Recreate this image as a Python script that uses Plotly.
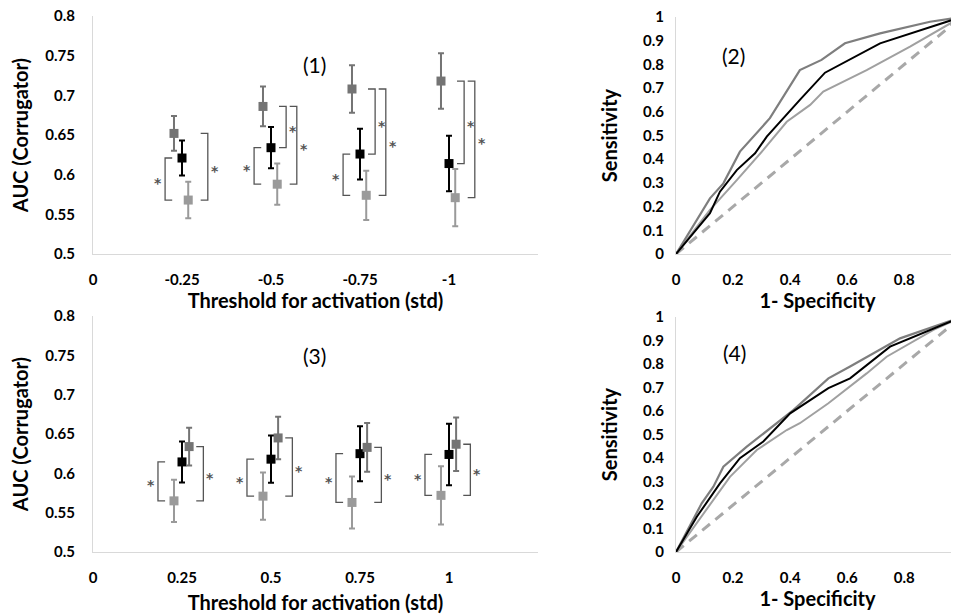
import plotly.graph_objects as go

# ---------------- data ----------------
neg_labels = ["0", "-0.25", "-0.5", "-0.75", "-1"]
pos_labels = ["0", "0.25", "0.5", "0.75", "1"]
auc_ticks = ["0.5", "0.55", "0.6", "0.65", "0.7", "0.75", "0.8"]
sens_ticks = ["0", "0.1", "0.2", "0.3", "0.4", "0.5", "0.6", "0.7", "0.8", "0.9", "1"]
spec_ticks = ["0", "0.2", "0.4", "0.6", "0.8"]
groups = [1, 2, 3, 4]

# panel (1)
p1_dark = [0.652, 0.686, 0.708, 0.718]
p1_dark_err = [0.022, 0.025, 0.030, 0.035]
p1_black = [0.621, 0.634, 0.626, 0.614]
p1_black_err = [0.022, 0.026, 0.032, 0.035]
p1_light = [0.568, 0.588, 0.574, 0.571]
p1_light_err = [0.023, 0.026, 0.031, 0.036]

# panel (3)
p3_light = [0.565, 0.571, 0.563, 0.572]
p3_light_err = [0.027, 0.030, 0.033, 0.037]
p3_black = [0.6145, 0.618, 0.625, 0.624]
p3_black_err = [0.026, 0.030, 0.035, 0.039]
p3_dark = [0.634, 0.645, 0.633, 0.637]
p3_dark_err = [0.024, 0.027, 0.031, 0.034]

# significance brackets: (group index, series a, series b, slot)
p1_sig = [(0, "black", "light", "L"), (0, "dark", "light", "R"),
          (1, "black", "light", "L"), (1, "dark", "black", "M"), (1, "dark", "light", "R"),
          (2, "black", "light", "L"), (2, "dark", "black", "M"), (2, "dark", "light", "R"),
          (3, "dark", "black", "M"), (3, "dark", "light", "R")]
p3_sig = [(0, "black", "light", "L"), (0, "dark", "light", "R"),
          (1, "black", "light", "L"), (1, "dark", "light", "R"),
          (2, "black", "light", "L"), (2, "dark", "light", "R"),
          (3, "black", "light", "L"), (3, "dark", "light", "R")]

# panel (2) ROC curves
r2_dark_x = [0, 0.119, 0.166, 0.224, 0.329, 0.434, 0.51, 0.592, 0.715, 0.89, 1.0]
r2_dark_y = [0, 0.235, 0.298, 0.432, 0.573, 0.776, 0.819, 0.889, 0.931, 0.98, 1.0]
r2_black_x = [0, 0.119, 0.154, 0.213, 0.277, 0.318, 0.434, 0.522, 0.715, 0.855, 1.0]
r2_black_y = [0, 0.172, 0.263, 0.354, 0.425, 0.495, 0.65, 0.765, 0.889, 0.945, 1.0]
r2_light_x = [0, 0.119, 0.213, 0.306, 0.388, 0.47, 0.516, 0.668, 0.82, 1.0]
r2_light_y = [0, 0.186, 0.312, 0.439, 0.558, 0.629, 0.685, 0.776, 0.875, 1.0]

# panel (4) ROC curves
r4_dark_x = [0, 0.09, 0.131, 0.166, 0.248, 0.329, 0.411, 0.534, 0.61, 0.785, 1.0]
r4_dark_y = [0, 0.207, 0.278, 0.363, 0.448, 0.526, 0.604, 0.739, 0.789, 0.909, 1.0]
r4_black_x = [0, 0.073, 0.154, 0.224, 0.306, 0.4, 0.534, 0.61, 0.75, 1.0]
r4_black_y = [0, 0.15, 0.292, 0.399, 0.47, 0.59, 0.697, 0.739, 0.874, 1.0]
r4_light_x = [0, 0.096, 0.189, 0.283, 0.388, 0.434, 0.534, 0.668, 0.738, 0.902, 1.0]
r4_light_y = [0, 0.16, 0.32, 0.434, 0.519, 0.548, 0.633, 0.76, 0.831, 0.945, 1.0]

chance = [0, 1]

# ---------------- style ----------------
C_BLACK = "#000000"
C_DARK = "#747474"
C_LIGHT = "#9a9a9a"
C_BRACKET = "#555555"
C_AXIS = "#d9d9d9"
FONT = "Lato"
PAGE_OFF = 8          # default body margin of the html page
W, H = 959 - PAGE_OFF, 616 - PAGE_OFF

fig = go.Figure()


def px2x(p):
    return (p - PAGE_OFF) / W


def py2y(p):
    return 1 - (p - PAGE_OFF) / H


def bold(labels):
    return ["<b>%s</b>" % t for t in labels]


def add_points(xa, ya, vals, errs, color, off):
    fig.add_trace(go.Scatter(
        x=[g + off for g in groups], y=vals, mode="markers",
        marker=dict(symbol="square", size=9, color=color),
        error_y=dict(type="data", array=errs, color=color, thickness=2, width=3),
        xaxis=xa, yaxis=ya, showlegend=False, hoverinfo="skip"))


def add_brackets(xa, ya, sig, series, slots):
    bx, by = [], []
    for gi, a, b, slot in sig:
        xv, tick = slots[slot]
        xc = groups[gi] + xv
        y1, y2 = series[a][gi], series[b][gi]
        bx += [xc + tick, xc, xc, xc + tick, None]
        by += [y1, y1, y2, y2, None]
        sx = xc - 0.08 if tick > 0 else xc + 0.08
        fig.add_annotation(x=sx, y=(y1 + y2) / 2, xref=xa, yref=ya, text="<b>*</b>",
                           showarrow=False, yshift=-4,
                           font=dict(family="DejaVu Sans", size=14, color=C_BRACKET))
    fig.add_trace(go.Scatter(x=bx, y=by, mode="lines",
                             line=dict(color=C_BRACKET, width=1.3),
                             xaxis=xa, yaxis=ya, showlegend=False, hoverinfo="skip"))


# panel 1
add_points("x", "y", p1_dark, p1_dark_err, C_DARK, -0.09)
add_points("x", "y", p1_black, p1_black_err, C_BLACK, 0.0)
add_points("x", "y", p1_light, p1_light_err, C_LIGHT, 0.07)
add_brackets("x", "y", p1_sig,
             {"dark": p1_dark, "black": p1_black, "light": p1_light},
             {"L": (-0.19, 0.08), "M": (0.17, -0.08), "R": (0.29, -0.08)})

# panel 3
add_points("x3", "y3", p3_light, p3_light_err, C_LIGHT, -0.09)
add_points("x3", "y3", p3_black, p3_black_err, C_BLACK, 0.0)
add_points("x3", "y3", p3_dark, p3_dark_err, C_DARK, 0.08)
add_brackets("x3", "y3", p3_sig,
             {"dark": p3_dark, "black": p3_black, "light": p3_light},
             {"L": (-0.27, 0.08), "R": (0.24, -0.08)})


def add_roc(xa, ya, dx, dy, bx, by, lx, ly):
    fig.add_trace(go.Scatter(x=chance, y=chance, mode="lines",
                             line=dict(color="#a8a8a8", width=3, dash="10px,7px"),
                             xaxis=xa, yaxis=ya, showlegend=False, hoverinfo="skip"))
    fig.add_trace(go.Scatter(x=lx, y=ly, mode="lines", line=dict(color="#a0a0a0", width=2),
                             xaxis=xa, yaxis=ya, showlegend=False, hoverinfo="skip"))
    fig.add_trace(go.Scatter(x=dx, y=dy, mode="lines", line=dict(color="#7e7e7e", width=2.2),
                             xaxis=xa, yaxis=ya, showlegend=False, hoverinfo="skip"))
    fig.add_trace(go.Scatter(x=bx, y=by, mode="lines", line=dict(color="#000000", width=2),
                             xaxis=xa, yaxis=ya, showlegend=False, hoverinfo="skip"))


add_roc("x2", "y2", r2_dark_x, r2_dark_y, r2_black_x, r2_black_y, r2_light_x, r2_light_y)
add_roc("x4", "y4", r4_dark_x, r4_dark_y, r4_black_x, r4_black_y, r4_light_x, r4_light_y)

tickfont = dict(family=FONT, size=15, color="#000000")
titlefont = dict(family=FONT, size=20, color="#000000")

left_dom = [px2x(93), px2x(538)]
right_dom = [px2x(676), 1.0]
top_dom = [py2y(254), py2y(16)]
bot_dom = [py2y(552), py2y(316)]
right_top_dom = [py2y(254), py2y(17)]
right_bot_dom = [py2y(552), py2y(317)]
right_range = [0, (959 - 676) / 285.4]

common_x = dict(showgrid=False, zeroline=False, showline=True, linecolor=C_AXIS, linewidth=1,
                ticks="", tickfont=tickfont, ticklabelstandoff=12, fixedrange=True,
                automargin=False, ticklabeloverflow="allow")
common_y = dict(showgrid=False, zeroline=False, showline=True, linecolor=C_AXIS, linewidth=1,
                ticks="", tickfont=tickfont, fixedrange=True, automargin=False,
                ticklabeloverflow="allow")

fig.update_layout(
    width=W, height=H, margin=dict(l=0, r=0, t=0, b=0),
    plot_bgcolor="white", paper_bgcolor="white", showlegend=False,
    xaxis=dict(common_x, domain=left_dom, anchor="y", range=[0, 5],
               tickvals=[0, 1, 2, 3, 4], ticktext=bold(neg_labels),
               title=dict(text="<b>Threshold for activation (std)</b>", font=titlefont, standoff=0)),
    yaxis=dict(common_y, domain=top_dom, anchor="x", range=[0.5, 0.8],
               tickvals=[0.5, 0.55, 0.6, 0.65, 0.7, 0.75, 0.8], ticktext=bold(auc_ticks),
               ticklabelstandoff=14,
               title=dict(text="<b>AUC (Corrugator)</b>", font=titlefont, standoff=12)),
    xaxis3=dict(common_x, domain=left_dom, anchor="y3", range=[0, 5],
                tickvals=[0, 1, 2, 3, 4], ticktext=bold(pos_labels),
                title=dict(text="<b>Threshold for activation (std)</b>", font=titlefont, standoff=10)),
    yaxis3=dict(common_y, domain=bot_dom, anchor="x3", range=[0.5, 0.8],
                tickvals=[0.5, 0.55, 0.6, 0.65, 0.7, 0.75, 0.8], ticktext=bold(auc_ticks),
                ticklabelstandoff=14,
                title=dict(text="<b>AUC (Corrugator)</b>", font=titlefont, standoff=12)),
    xaxis2=dict(common_x, domain=right_dom, anchor="y2", range=right_range,
                tickvals=[0, 0.2, 0.4, 0.6, 0.8], ticktext=bold(spec_ticks),
                title=dict(text="<b>1- Specificity</b>", font=titlefont, standoff=6)),
    yaxis2=dict(common_y, domain=right_top_dom, anchor="x2", range=[0, 1],
                tickvals=[0, 0.1, 0.2, 0.3, 0.4, 0.5, 0.6, 0.7, 0.8, 0.9, 1],
                ticktext=bold(sens_ticks), ticklabelstandoff=8,
                title=dict(text="<b>Sensitivity</b>", font=titlefont, standoff=20)),
    xaxis4=dict(common_x, domain=right_dom, anchor="y4", range=right_range,
                tickvals=[0, 0.2, 0.4, 0.6, 0.8], ticktext=bold(spec_ticks),
                title=dict(text="<b>1- Specificity</b>", font=titlefont, standoff=2)),
    yaxis4=dict(common_y, domain=right_bot_dom, anchor="x4", range=[0, 1],
                tickvals=[0, 0.1, 0.2, 0.3, 0.4, 0.5, 0.6, 0.7, 0.8, 0.9, 1],
                ticktext=bold(sens_ticks), ticklabelstandoff=8,
                title=dict(text="<b>Sensitivity</b>", font=titlefont, standoff=20)),
)

for txt, xp, yp in [("(1)", 301, 50), ("(3)", 301, 355), ("(2)", 747, 41), ("(4)", 748, 352)]:
    fig.add_annotation(x=px2x(xp), y=py2y(yp), xref="paper", yref="paper", text=txt,
                       showarrow=False, font=dict(family=FONT, size=21, color="#000000"))

fig.write_html("out.html")
